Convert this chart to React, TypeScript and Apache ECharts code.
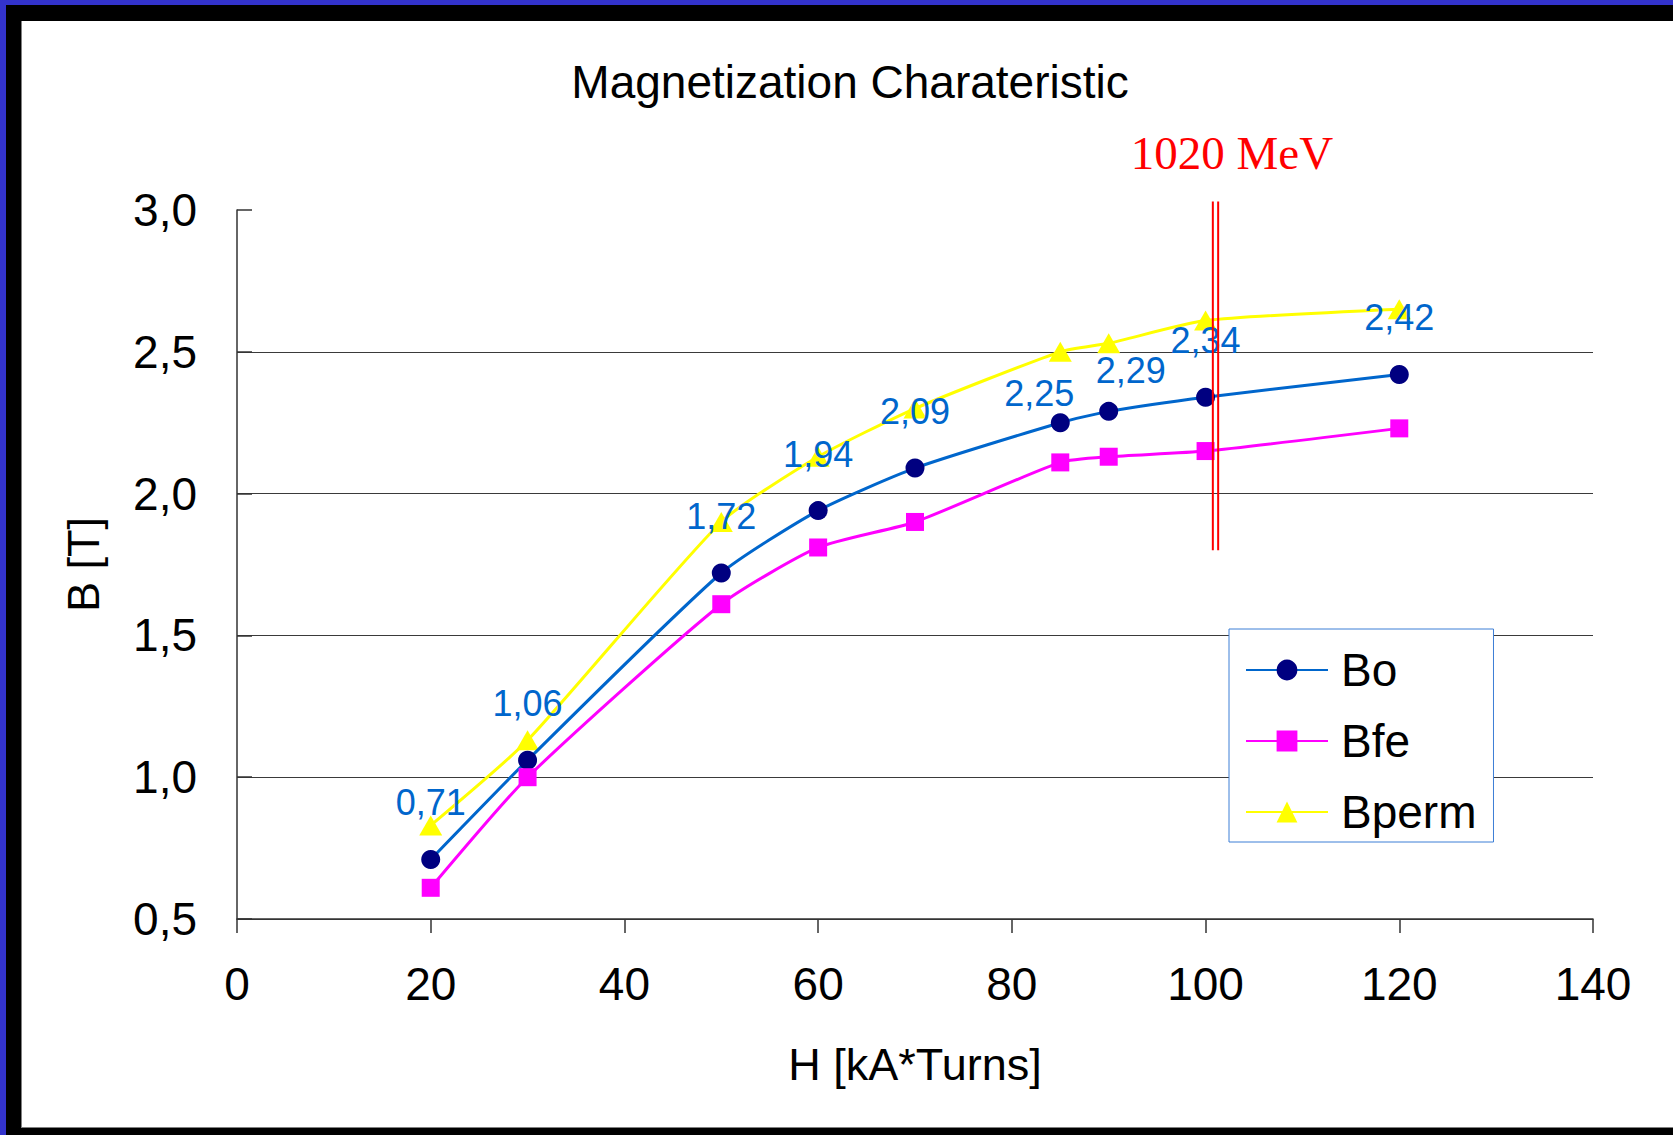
import React, { useEffect, useRef } from "react";
import * as echarts from "echarts";

// Ampere-turns of the magnet coil
const hValues = [20, 30, 50, 60, 70, 85, 90, 100, 120];
// Flux density in the gap, in the iron and with permanent magnets
const boValues = [0.71, 1.06, 1.72, 1.94, 2.09, 2.25, 2.29, 2.34, 2.42];
const bfeValues = [0.61, 1.0, 1.61, 1.81, 1.9, 2.11, 2.13, 2.15, 2.23];
const bpermValues = [0.83, 1.13, 1.9, 2.13, 2.3, 2.5, 2.53, 2.61, 2.65];
const seriesNames = ["Bo", "Bfe", "Bperm"];

// Hand-placed value labels that would otherwise collide (index -> [dx, dy])
const boLabelShift: Record<number, [number, number]> = { 5: [-21, 27], 6: [22, 16] };

// Operating point for the 1020 MeV beam (double vertical marker)
const energyText = "1020 MeV";
const energyLineX = [100.75, 101.3];
const energyLineY = [1.8, 3.03];

const titleText = "Magnetization Charateristic";
const xName = "H [kA*Turns]";
const yName = "B [T]";

const SANS = "'Liberation Sans', Arial, Helvetica, sans-serif";
const SERIF = "'Liberation Serif', 'Times New Roman', serif";

const pairs = (ys: number[]) => hValues.map((h, i) => [h, ys[i]]);
const comma = (v: number, d: number) => v.toFixed(d).replace(".", ",");

export default function App() {
  const ref = useRef<HTMLDivElement>(null);

  useEffect(() => {
    document.body.style.margin = "0";
    if (!ref.current) return;
    const chart = echarts.init(ref.current, undefined, { renderer: "svg" });

    const markerSeries = energyLineX.map((x) => ({
      type: "line",
      name: energyText,
      data: energyLineY.map((y) => [x, y]),
      symbol: "none",
      silent: true,
      clip: false,
      z: 10,
      lineStyle: { color: "#FF0000", width: 2 },
    }));

    const boData = hValues.map((h, i) =>
      boLabelShift[i]
        ? { value: [h, boValues[i]], label: { offset: boLabelShift[i] } }
        : { value: [h, boValues[i]] }
    );

    chart.setOption({
      animation: false,
      grid: { left: 237, top: 210, width: 1356, height: 709 },
      graphic: [
        {
          type: "text",
          x: 850,
          y: 82,
          style: {
            text: titleText,
            fontSize: 46,
            fontFamily: SANS,
            fill: "#000",
            align: "center",
            verticalAlign: "middle",
          },
        },
        {
          type: "text",
          x: 1232,
          y: 153,
          style: {
            text: energyText,
            fontSize: 47,
            fontFamily: SERIF,
            fill: "#FF0000",
            align: "center",
            verticalAlign: "middle",
          },
        },
      ],
      legend: {
        data: seriesNames,
        orient: "vertical",
        left: 1229,
        top: 629,
        padding: [16, 17, 5, 16],
        itemGap: 21,
        itemWidth: 82,
        itemHeight: 26,
        borderColor: "#3D7FD6",
        borderWidth: 1,
        backgroundColor: "#fff",
        textStyle: {
          fontSize: 46,
          fontFamily: SANS,
          color: "#000",
          lineHeight: 50,
          padding: [0, 0, 0, 8],
        },
      },
      xAxis: {
        type: "value",
        min: 0,
        max: 140,
        interval: 20,
        name: xName,
        nameLocation: "middle",
        nameGap: 123,
        nameTextStyle: { fontSize: 45, fontFamily: SANS, color: "#000" },
        axisLine: { show: true, lineStyle: { color: "#333", width: 1.5 } },
        axisTick: { show: true, inside: false, length: 14, lineStyle: { color: "#333", width: 1.5 } },
        axisLabel: { fontSize: 46, fontFamily: SANS, color: "#000", margin: 42 },
        splitLine: { show: false },
      },
      yAxis: {
        type: "value",
        min: 0.5,
        max: 3.0,
        interval: 0.5,
        name: yName,
        nameLocation: "middle",
        nameGap: 131,
        nameTextStyle: { fontSize: 45, fontFamily: SANS, color: "#000" },
        axisLine: { show: true, lineStyle: { color: "#333", width: 1.5 } },
        axisTick: { show: true, inside: true, length: 15, lineStyle: { color: "#333", width: 1.5 } },
        axisLabel: {
          fontSize: 46,
          fontFamily: SANS,
          color: "#000",
          margin: 40,
          formatter: (v: number) => comma(v, 1),
        },
        splitLine: {
          show: true,
          showMaxLine: false,
          lineStyle: { color: "#3a3a3a", width: 1.2 },
        },
      },
      series: [
        {
          type: "line",
          name: "Bo",
          data: boData,
          smooth: 0.2,
          symbol: "circle",
          symbolSize: 19,
          itemStyle: { color: "#000080" },
          lineStyle: { color: "#0066CC", width: 3 },
          label: {
            show: true,
            position: "top",
            distance: 29,
            fontSize: 36,
            fontFamily: SANS,
            color: "#0066CC",
            formatter: (p: any) => comma(p.value[1], 2),
          },
          z: 2,
        },
        {
          type: "line",
          name: "Bfe",
          data: pairs(bfeValues),
          smooth: 0.2,
          symbol: "rect",
          symbolSize: 18,
          itemStyle: { color: "#FF00FF" },
          lineStyle: { color: "#FF00FF", width: 3 },
          z: 3,
        },
        {
          type: "line",
          name: "Bperm",
          data: pairs(bpermValues),
          smooth: 0.2,
          symbol: "triangle",
          symbolSize: [23, 20],
          itemStyle: { color: "#FFFF00" },
          lineStyle: { color: "#FFFF00", width: 3 },
          z: 1,
        },
        ...markerSeries,
      ],
    });

    return () => chart.dispose();
  }, []);

  const abs = { position: "absolute" as const };
  return (
    <div style={{ position: "relative", width: 1673, height: 1135, background: "#000", overflow: "hidden" }}>
      <div style={{ ...abs, left: 0, top: 0, width: 1673, height: 5, background: "#3333CC" }} />
      <div style={{ ...abs, left: 0, top: 0, width: 6, height: 1135, background: "#3333CC" }} />
      <div
        style={{
          ...abs,
          left: 21,
          top: 21,
          width: 1652,
          height: 1107,
          background: "#fff",
          boxSizing: "border-box",
          borderLeft: "1px solid #808080",
          borderBottom: "1px solid #808080",
        }}
      />
      <div ref={ref} style={{ ...abs, left: 0, top: 0, width: 1673, height: 1135 }} />
    </div>
  );
}
